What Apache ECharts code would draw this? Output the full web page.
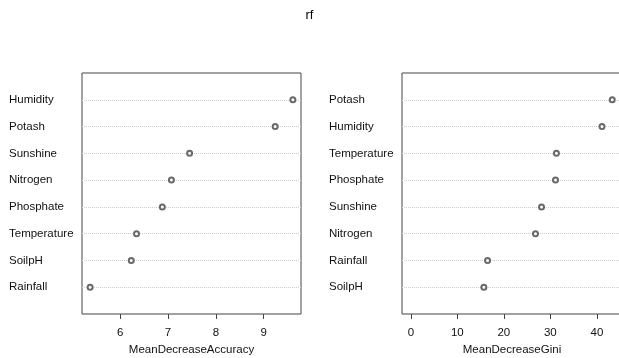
<!DOCTYPE html>
<html style="height: 100%">
<head>
    <meta charset="utf-8">
    <title>rf</title>
    <script src="https://cdn.jsdelivr.net/npm/echarts@6/dist/echarts.min.js"></script>
</head>
<body style="height: 100%; margin: 0; background: #fff">
    <div id="container" style="width: 619px; height: 358px"></div>
    <script>
// data
const accNames = ['Humidity', 'Potash', 'Sunshine', 'Nitrogen', 'Phosphate', 'Temperature', 'SoilpH', 'Rainfall'];
const accValues = [9.61, 9.24, 7.45, 7.07, 6.88, 6.34, 6.23, 5.37];
const giniNames = ['Potash', 'Humidity', 'Temperature', 'Phosphate', 'Sunshine', 'Nitrogen', 'Rainfall', 'SoilpH'];
const giniValues = [43.3, 41.1, 31.3, 31.1, 28.1, 26.8, 16.5, 15.7];
const accTicks = [6, 7, 8, 9];
const giniTicks = [0, 10, 20, 30, 40];

const FONT = 'Liberation Sans, Arial, sans-serif';

// padded category list: one empty slot above and below, like R dotchart
function padded(names) {
    return [''].concat(names, ['']);
}

function xAxisFor(gridIndex, name, min, max, ticks) {
    return {
        type: 'value',
        gridIndex: gridIndex,
        min: min,
        max: max,
        name: name,
        nameLocation: 'middle',
        nameGap: 30,
        nameTextStyle: { color: '#111', fontSize: 11.5, fontFamily: FONT },
        axisLine: { show: false },
        axisTick: { show: true, length: 5, customValues: ticks, lineStyle: { color: '#444' } },
        axisLabel: { customValues: ticks, margin: 13, color: '#111', fontSize: 11.5, fontFamily: FONT },
        splitLine: { show: false }
    };
}

function yAxisFor(gridIndex, names) {
    const n = names.length + 1;
    return {
        type: 'category',
        gridIndex: gridIndex,
        data: padded(names),
        inverse: true,
        boundaryGap: false,
        axisLine: { show: false },
        axisTick: { show: false },
        axisLabel: {
            interval: 0,
            align: 'left',
            margin: 73,
            padding: [3, 0, 0, 0],
            color: '#111',
            fontSize: 11.5,
            fontFamily: FONT
        },
        splitLine: {
            show: true,
            interval: (idx) => idx > 0 && idx < n,
            lineStyle: { color: '#cccccc', type: 'dotted', width: 1 }
        }
    };
}

function dots(values, axisIndex) {
    return {
        type: 'scatter',
        xAxisIndex: axisIndex,
        yAxisIndex: axisIndex,
        symbol: 'emptyCircle',
        symbolSize: 5,
        itemStyle: { color: '#444', borderWidth: 1 },
        data: values.map((v, i) => [v, i + 1])
    };
}

const chart = echarts.init(document.getElementById('container'));
chart.setOption({
    animation: false,
    title: {
        text: 'rf',
        left: 'center',
        top: 4,
        textStyle: { color: '#000', fontSize: 13, fontWeight: 'normal', fontFamily: FONT }
    },
    // outerBoundsMode none: keep the boxes exactly where R put them
    grid: [
        { left: 82, right: 318, top: 73, bottom: 44, outerBoundsMode: 'none', containLabel: false,
          show: true, borderColor: '#444', borderWidth: 1, backgroundColor: 'transparent' },
        { left: 402, right: -3, top: 73, bottom: 44, outerBoundsMode: 'none', containLabel: false,
          show: true, borderColor: '#444', borderWidth: 1, backgroundColor: 'transparent' }
    ],
    xAxis: [
        xAxisFor(0, 'MeanDecreaseAccuracy', 5.2, 9.78, accTicks),
        xAxisFor(1, 'MeanDecreaseGini', -1.9, 45.4, giniTicks)
    ],
    yAxis: [
        yAxisFor(0, accNames),
        yAxisFor(1, giniNames)
    ],
    series: [
        dots(accValues, 0),
        dots(giniValues, 1)
    ]
});
    </script>
</body>
</html>
